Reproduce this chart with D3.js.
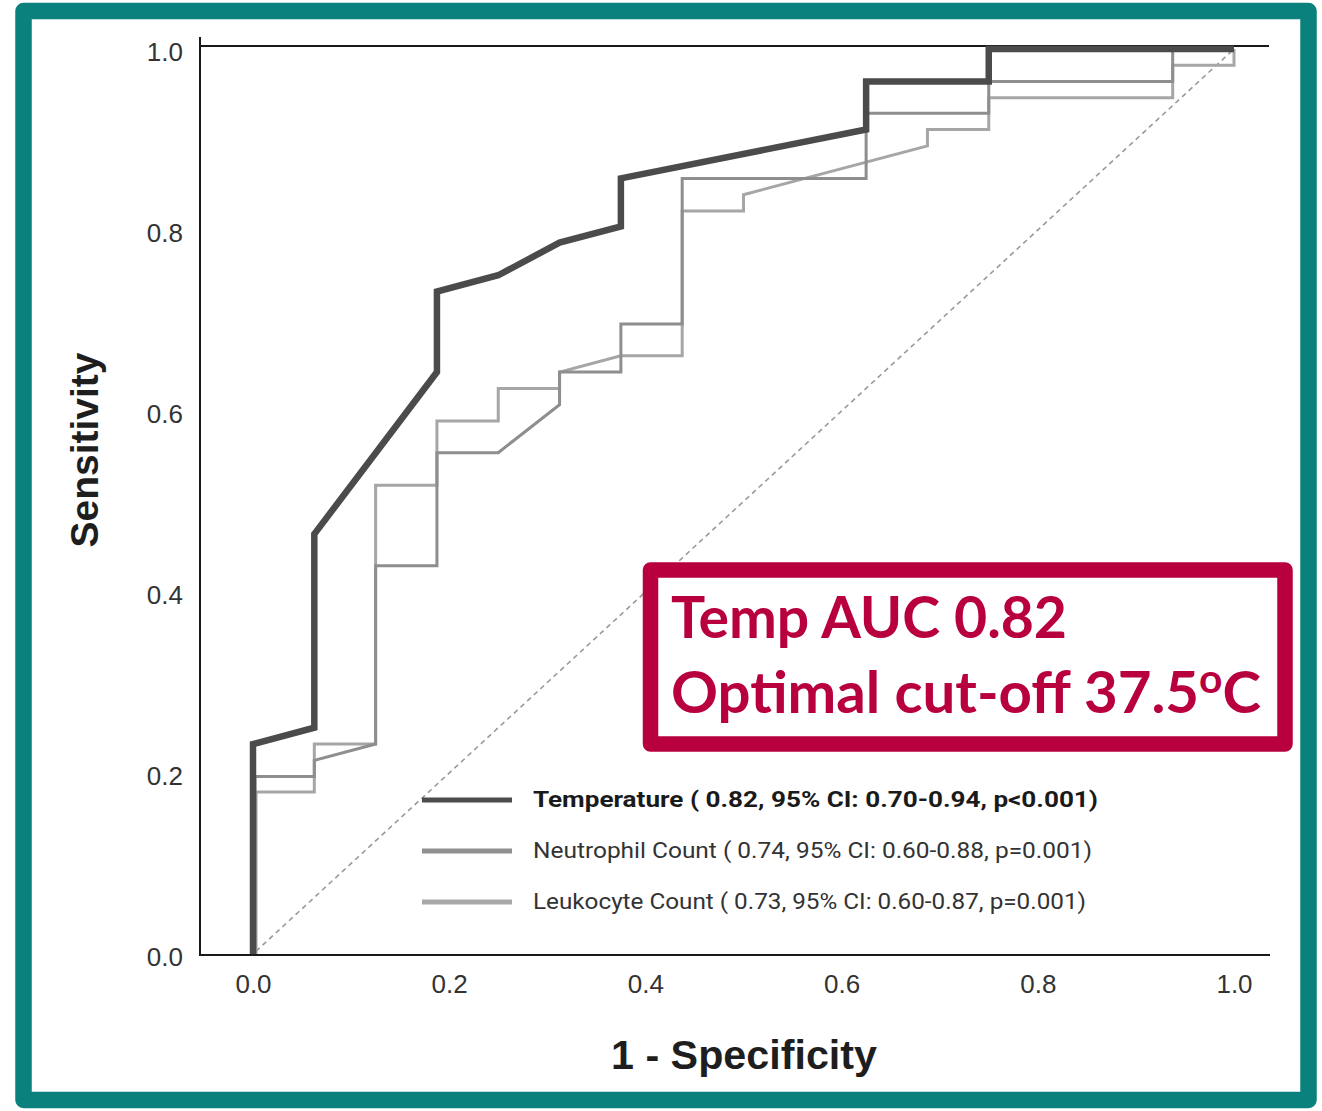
<!DOCTYPE html>
<html>
<head>
<meta charset="utf-8">
<script src="https://cdn.jsdelivr.net/npm/d3@7"></script>
<style>
  html, body { margin: 0; padding: 0; background: #ffffff; }
  svg { display: block; }
</style>
</head>
<body>
<div id="chart"></div>
<script>
// ---------- data ----------
const seriesNames = ["Leukocyte Count", "Neutrophil Count", "Temperature"];

const tempFpr = [0, 0, 0.0625, 0.0625, 0.1875, 0.1875, 0.25, 0.3125, 0.375, 0.375, 0.625, 0.625, 0.75, 0.75, 1.0];
const tempTpr = [0, 0.232, 0.250, 0.464, 0.643, 0.732, 0.750, 0.786, 0.804, 0.857, 0.911, 0.964, 0.964, 1.0, 1.0];

const neutFpr = [0, 0, 0.0625, 0.0625, 0.125, 0.125, 0.1875, 0.1875, 0.25, 0.3125, 0.3125, 0.375, 0.375, 0.4375, 0.4375, 0.625, 0.625, 0.75, 0.75, 0.9375, 0.9375, 1.0];
const neutTpr = [0, 0.196, 0.196, 0.214, 0.232, 0.429, 0.429, 0.554, 0.554, 0.607, 0.643, 0.643, 0.696, 0.696, 0.857, 0.857, 0.929, 0.929, 0.964, 0.964, 1.0, 1.0];

const leukFpr = [0, 0, 0.0625, 0.0625, 0.125, 0.125, 0.1875, 0.1875, 0.25, 0.25, 0.3125, 0.3125, 0.375, 0.4375, 0.4375, 0.5, 0.5, 0.6875, 0.6875, 0.75, 0.75, 0.9375, 0.9375, 1.0, 1.0];
const leukTpr = [0, 0.179, 0.179, 0.232, 0.232, 0.518, 0.518, 0.589, 0.589, 0.625, 0.625, 0.643, 0.661, 0.661, 0.821, 0.821, 0.839, 0.893, 0.911, 0.911, 0.946, 0.946, 0.982, 0.982, 1.0];

const refFpr = [0, 1];
const refTpr = [0, 1];

const xTickValues = [0, 0.2, 0.4, 0.6, 0.8, 1.0];
const yTickValues = [0, 0.2, 0.4, 0.6, 0.8, 1.0];

const legendLabels = [
  "Temperature ( 0.82, 95% CI: 0.70-0.94, p<0.001)",
  "Neutrophil Count ( 0.74, 95% CI: 0.60-0.88, p=0.001)",
  "Leukocyte Count ( 0.73, 95% CI: 0.60-0.87, p=0.001)"
];
const xTitle = "1 - Specificity";
const yTitle = "Sensitivity";
const noteLine1 = "Temp AUC 0.82";
const noteLine2a = "Optimal cut-off 37.5";
const noteSup = "o";
const noteLine2b = "C";

// ---------- layout ----------
const W = 1322, H = 1111;
const svg = d3.select("#chart").append("svg").attr("width", W).attr("height", H);

svg.append("rect").attr("x", 0).attr("y", 0).attr("width", W).attr("height", H).attr("fill", "#ffffff");

// teal frame
svg.append("rect")
  .attr("x", 23.5).attr("y", 11).attr("width", 1285).attr("height", 1089)
  .attr("fill", "none").attr("stroke", "#0a817d").attr("stroke-width", 16.5)
  .attr("stroke-linejoin", "round");

const x = d3.scaleLinear().domain([0, 1]).range([253, 1234]);
const y = d3.scaleLinear().domain([0, 1]).range([954, 49]);

// axes (labels only)
const xAxis = svg.append("g").attr("transform", "translate(0,955)")
  .call(d3.axisBottom(x).tickValues(xTickValues).tickSize(0).tickPadding(20).tickFormat(d3.format(".1f")));
xAxis.select(".domain").remove();
xAxis.selectAll("text").attr("font-family", "'Liberation Sans', Arial, sans-serif")
  .attr("font-size", 26).attr("fill", "#333333");

const yAxis = svg.append("g").attr("transform", "translate(200,3)")
  .call(d3.axisLeft(y).tickValues(yTickValues).tickSize(0).tickPadding(17).tickFormat(d3.format(".1f")));
yAxis.select(".domain").remove();
yAxis.selectAll("text").attr("font-family", "'Liberation Sans', Arial, sans-serif")
  .attr("font-size", 26).attr("fill", "#333333");

// frame lines
const frame = svg.append("g").attr("stroke", "#1a1a1a").attr("stroke-width", 2).attr("fill", "none");
frame.append("line").attr("x1", 200).attr("x2", 200).attr("y1", 37).attr("y2", 956);
frame.append("line").attr("x1", 199).attr("x2", 1269).attr("y1", 46).attr("y2", 46);
frame.append("line").attr("x1", 199).attr("x2", 1270).attr("y1", 955).attr("y2", 955);

// reference diagonal
const line = d3.line().x(d => x(d[0])).y(d => y(d[1]));
svg.append("path")
  .attr("d", line(d3.zip(refFpr, refTpr)))
  .attr("fill", "none").attr("stroke", "#9a9a9a").attr("stroke-width", 1.6)
  .attr("stroke-dasharray", "5,4").attr("stroke-dashoffset", -4);

// curves
const curves = [
  { name: seriesNames[0], fpr: leukFpr, tpr: leukTpr, color: "#a6a6a6", width: 3, dx: 3 },
  { name: seriesNames[1], fpr: neutFpr, tpr: neutTpr, color: "#8e8e8e", width: 3, dx: 2 },
  { name: seriesNames[2], fpr: tempFpr, tpr: tempTpr, color: "#4b4b4b", width: 6.5, dx: 0 }
];
svg.append("g").selectAll("path").data(curves).join("path")
  .attr("d", c => d3.line().x(d => x(d[0]) + (d[0] === 0 ? c.dx : 0)).y(d => y(d[1]))(d3.zip(c.fpr, c.tpr)))
  .attr("fill", "none")
  .attr("stroke", c => c.color)
  .attr("stroke-width", c => c.width)
  .attr("stroke-linejoin", "miter");

// legend
const legendItems = [
  { label: legendLabels[0], color: "#4b4b4b", bold: true, len: 565 },
  { label: legendLabels[1], color: "#909090", bold: false, len: 559 },
  { label: legendLabels[2], color: "#a8a8a8", bold: false, len: 553 }
];
const lg = svg.append("g").selectAll("g").data(legendItems).join("g")
  .attr("transform", (d, i) => `translate(0,${800 + i * 51})`);
lg.append("line").attr("x1", 422).attr("x2", 512).attr("y1", 0).attr("y2", 0)
  .attr("stroke", d => d.color).attr("stroke-width", 5);
lg.append("text").attr("x", 533).attr("y", 7)
  .attr("font-family", "Roboto, 'Noto Sans', sans-serif")
  .attr("font-size", 21.5)
  .attr("font-weight", d => d.bold ? 700 : 400)
  .attr("fill", d => d.bold ? "#1a1a1a" : "#333333")
  .attr("textLength", d => d.len).attr("lengthAdjust", "spacingAndGlyphs")
  .text(d => d.label);

// axis titles
svg.append("text")
  .attr("x", 744).attr("y", 1069).attr("text-anchor", "middle")
  .attr("font-family", "'Liberation Sans', Arial, sans-serif").attr("font-weight", 700)
  .attr("font-size", 41).attr("fill", "#1e1e1e")
  .attr("textLength", 266).attr("lengthAdjust", "spacingAndGlyphs")
  .text(xTitle);
svg.append("text")
  .attr("transform", "translate(98,450) rotate(-90)").attr("text-anchor", "middle")
  .attr("font-family", "'Liberation Sans', Arial, sans-serif").attr("font-weight", 700)
  .attr("font-size", 39).attr("fill", "#1e1e1e")
  .text(yTitle);

// annotation box
const crimson = "#b7003d";
svg.append("rect")
  .attr("x", 650.5).attr("y", 570).attr("width", 634.5).attr("height", 174)
  .attr("fill", "#ffffff").attr("stroke", crimson).attr("stroke-width", 15.5)
  .attr("stroke-linejoin", "round");
const noteFont = "Lato, 'Open Sans', sans-serif";
svg.append("text").attr("x", 671).attr("y", 638)
  .attr("font-family", noteFont).attr("font-weight", 700).attr("font-size", 57)
  .attr("fill", crimson)
  .attr("textLength", 396).attr("lengthAdjust", "spacingAndGlyphs")
  .text(noteLine1);
const t2 = svg.append("text").attr("x", 671).attr("y", 713)
  .attr("font-family", noteFont).attr("font-weight", 700).attr("font-size", 57)
  .attr("fill", crimson)
  .attr("textLength", 590).attr("lengthAdjust", "spacingAndGlyphs");
t2.append("tspan").text(noteLine2a);
t2.append("tspan").attr("font-size", 40).attr("dy", -20).text(noteSup);
t2.append("tspan").attr("dy", 20).text(noteLine2b);
</script>
</body>
</html>
